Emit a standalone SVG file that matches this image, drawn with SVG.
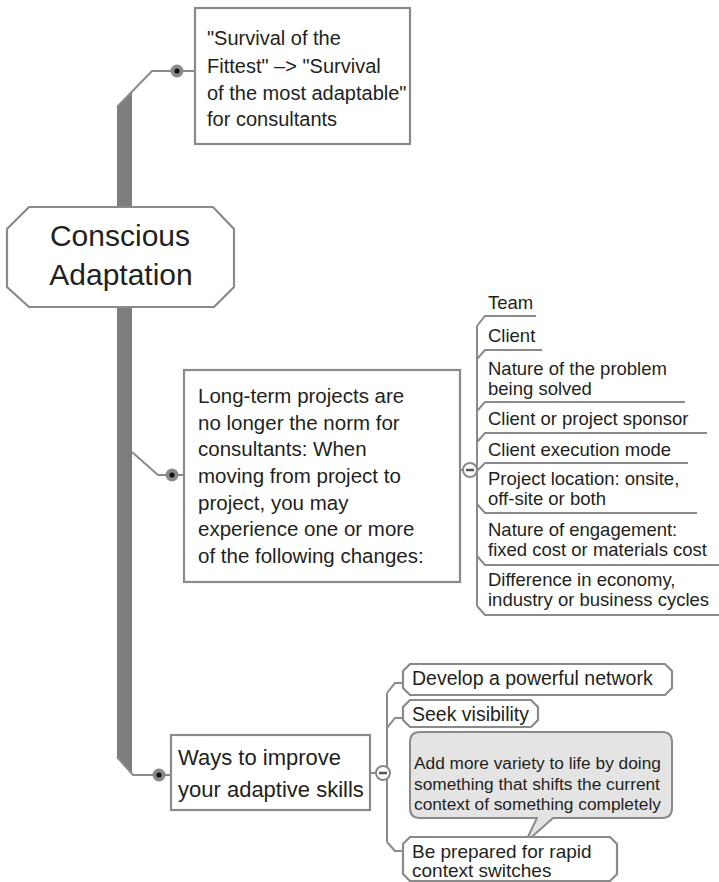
<svg xmlns="http://www.w3.org/2000/svg" width="719" height="882" viewBox="0 0 719 882">
<style>
.t{font-family:"Liberation Sans",Arial,sans-serif;fill:#231f20}
.ln{fill:none;stroke:#8a8a8a;stroke-width:2}
.box{fill:#fff;stroke:#8a8a8a;stroke-width:2.2}
.dotO{fill:#8a8a8a}
.dotI{fill:#111}
.col{fill:#fff;stroke:#8a8a8a;stroke-width:2}
.minus{stroke:#555;stroke-width:2.5}
</style>
<rect width="719" height="882" fill="#fff"/>
<g id="connectors">
  <polygon points="117,107 132,92 132,774 117,757" fill="#7d7d7d"/>
  <polyline class="ln" points="117,107 152,71 195,71"/>
  <polyline class="ln" points="132,452 158,475 184,475"/>
  <polyline class="ln" points="117,757 133,775 171,775"/>
  <line class="ln" x1="460" y1="470" x2="465" y2="470"/>
  <line class="ln" x1="477" y1="326" x2="477" y2="606"/>
  <polyline class="ln" points="477,326 485,316 536,316"/>
  <polyline class="ln" points="477,359 485,350 542,350"/>
  <polyline class="ln" points="477,411 485,402 685,402"/>
  <polyline class="ln" points="477,442 485,433 707,433"/>
  <polyline class="ln" points="477,471 485,463 688,463"/>
  <polyline class="ln" points="477,504 485,513 697,513"/>
  <polyline class="ln" points="477,556 485,565 719,565"/>
  <polyline class="ln" points="477,606 485,615 719,615"/>
  <line class="ln" x1="370" y1="773" x2="377" y2="773"/>
  <line class="ln" x1="387" y1="693" x2="387" y2="842"/>
  <polyline class="ln" points="387,693 395,683 403,683"/>
  <polyline class="ln" points="387,728 395,718 403,718"/>
  <polyline class="ln" points="387,842 395,851 403,851"/>
</g>
<g id="dots">
  <circle class="dotO" cx="177" cy="71" r="6.5"/><circle class="dotI" cx="177" cy="71" r="2.6"/>
  <circle class="dotO" cx="172" cy="475" r="6.5"/><circle class="dotI" cx="172" cy="475" r="2.6"/>
  <circle class="dotO" cx="159" cy="775" r="6.5"/><circle class="dotI" cx="159" cy="775" r="2.6"/>
</g>
<g id="root">
  <polygon class="box" points="29,207 213,207 234,229 234,287 214,307 29,307 7,287 7,229" stroke-width="2.6"/>
  <text class="t" x="120" y="246" font-size="30" text-anchor="middle">Conscious</text>
  <text class="t" x="121" y="285" font-size="30" text-anchor="middle">Adaptation</text>
</g>
<g id="survival">
  <rect class="box" x="195" y="8" width="215" height="136"/>
  <g class="t" font-size="20">
    <text x="207" y="45">"Survival of the</text>
    <text x="207" y="73">Fittest" –&gt; "Survival</text>
    <text x="207" y="100">of the most adaptable"</text>
    <text x="207" y="126">for consultants</text>
  </g>
</g>
<g id="longterm">
  <rect class="box" x="184" y="370" width="276" height="212"/>
  <g class="t" font-size="20.5">
    <text x="198" y="403">Long-term projects are</text>
    <text x="198" y="430">no longer the norm for</text>
    <text x="198" y="456">consultants: When</text>
    <text x="198" y="483">moving from project to</text>
    <text x="198" y="510">project, you may</text>
    <text x="198" y="536">experience one or more</text>
    <text x="198" y="563">of the following changes:</text>
  </g>
  <circle class="col" cx="470" cy="470" r="7"/>
  <line class="minus" x1="466" y1="470" x2="474" y2="470"/>
</g>
<g id="changes" class="t" font-size="18.5">
  <text x="488" y="309">Team</text>
  <text x="488" y="342">Client</text>
  <text x="488" y="375">Nature of the problem</text>
  <text x="488" y="395">being solved</text>
  <text x="488" y="425">Client or project sponsor</text>
  <text x="488" y="456">Client execution mode</text>
  <text x="488" y="485">Project location: onsite,</text>
  <text x="488" y="505">off-site or both</text>
  <text x="488" y="536">Nature of engagement:</text>
  <text x="488" y="556">fixed cost or materials cost</text>
  <text x="488" y="586">Difference in economy,</text>
  <text x="488" y="606">industry or business cycles</text>
</g>
<g id="ways">
  <rect class="box" x="171" y="735" width="199" height="75"/>
  <text class="t" font-size="22" x="178" y="765">Ways to improve</text>
  <text class="t" font-size="22" x="178" y="797">your adaptive skills</text>
  <circle class="col" cx="383" cy="773" r="7"/>
  <line class="minus" x1="379" y1="773" x2="387" y2="773"/>
</g>
<g id="network">
  <path class="box" d="M410,664 H665 L672,671 V688 L665,695 H410 L403,688 V671 Z"/>
  <text class="t" font-size="19.5" x="412" y="685">Develop a powerful network</text>
</g>
<g id="visibility">
  <path class="box" d="M410,700 H531 L538,707 V720 L531,727 H410 L403,720 V707 Z"/>
  <text class="t" font-size="19.5" x="412" y="721">Seek visibility</text>
</g>
<g id="variety">
  <path d="M420,732 H662 Q672,732 672,742 V808 Q672,818 662,818 H553 L525,843 L537,818 H420 Q410,818 410,808 V742 Q410,732 420,732 Z" fill="#e4e4e4" stroke="#8a8a8a" stroke-width="2"/>
  <g class="t" font-size="17.3">
    <text x="414" y="769">Add more variety to life by doing</text>
    <text x="414" y="790">something that shifts the current</text>
    <text x="414" y="810">context of something completely</text>
  </g>
</g>
<g id="switches">
  <path class="box" d="M410,837 H610 L617,844 V874 L610,881 H410 L403,874 V844 Z"/>
  <text class="t" font-size="19" x="412" y="858">Be prepared for rapid</text>
  <text class="t" font-size="19" x="412" y="877">context switches</text>
</g>
</svg>
